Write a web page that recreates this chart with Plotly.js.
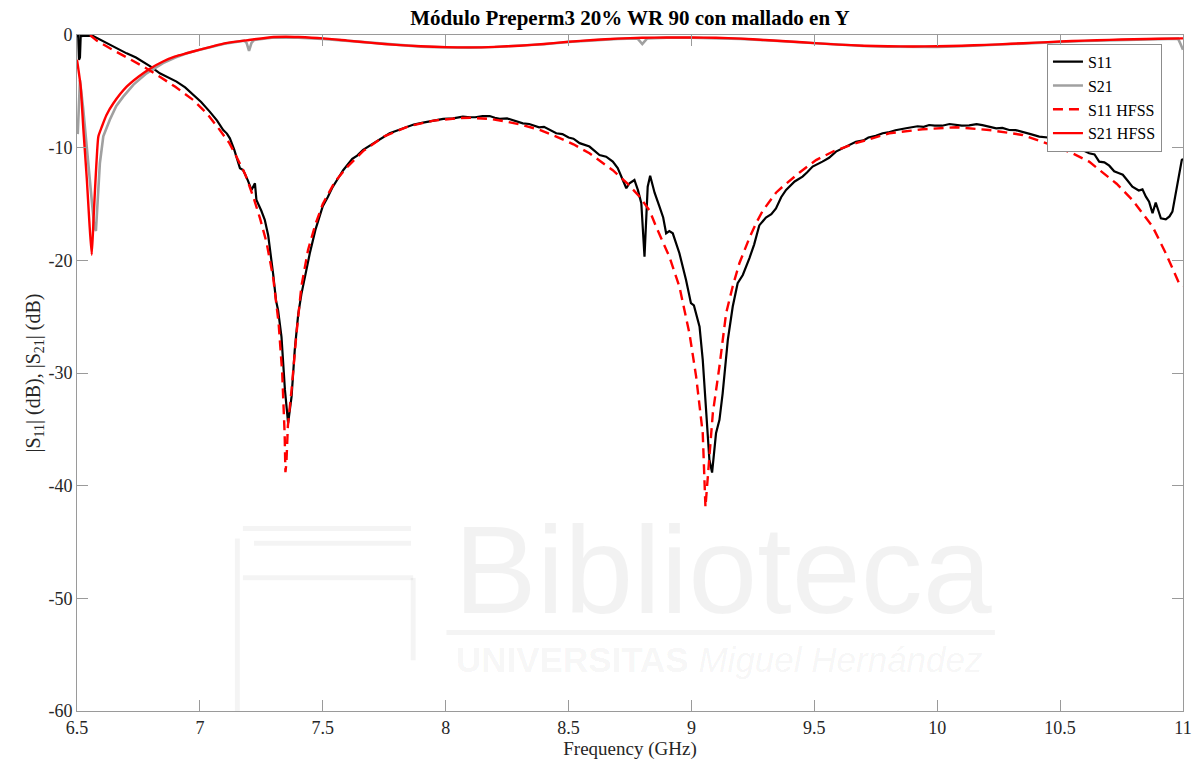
<!DOCTYPE html>
<html>
<head>
<meta charset="utf-8">
<script src="https://cdn.plot.ly/plotly-3.0.1.min.js"></script>
<style>
  html, body { margin: 0; padding: 0; background: #ffffff; }
  #chart { width: 1197px; height: 767px; }
</style>
</head>
<body>
<div id="chart"></div>
<script>
// Measured |S11| (dB)
const s11Freq = [6.500, 6.505, 6.508, 6.512, 6.515, 6.540, 6.566, 6.600, 6.634, 6.670, 6.702, 6.740, 6.770, 6.800,
  6.837, 6.870, 6.905, 6.940, 6.973, 7.005, 7.040, 7.070, 7.095, 7.110, 7.122, 7.140, 7.163, 7.176, 7.195, 7.210,
  7.224, 7.230, 7.250, 7.264, 7.278, 7.285, 7.298, 7.310, 7.318, 7.332, 7.346, 7.359, 7.373, 7.386, 7.400, 7.413,
  7.427, 7.447, 7.470, 7.500, 7.520, 7.540, 7.560, 7.583, 7.620, 7.640, 7.664, 7.690, 7.720, 7.745, 7.772, 7.800,
  7.840, 7.870, 7.908, 7.950, 7.990, 8.030, 8.070, 8.100, 8.120, 8.150, 8.179, 8.200, 8.220, 8.250, 8.280, 8.314,
  8.340, 8.380, 8.400, 8.420, 8.450, 8.475, 8.500, 8.520, 8.545, 8.585, 8.605, 8.626, 8.653, 8.680, 8.700, 8.714,
  8.735, 8.748, 8.768, 8.782, 8.796, 8.809, 8.822, 8.832, 8.850, 8.870, 8.885, 8.897, 8.910, 8.924, 8.951, 8.978,
  8.998, 9.010, 9.019, 9.033, 9.046, 9.060, 9.073, 9.084, 9.100, 9.114, 9.127, 9.148, 9.168, 9.188, 9.209, 9.236,
  9.255, 9.276, 9.303, 9.325, 9.344, 9.365, 9.385, 9.420, 9.452, 9.470, 9.493, 9.533, 9.560, 9.588, 9.630, 9.669,
  9.700, 9.720, 9.750, 9.778, 9.800, 9.830, 9.873, 9.900, 9.920, 9.945, 9.967, 9.990, 10.020, 10.050, 10.076, 10.100,
  10.130, 10.160, 10.184, 10.210, 10.240, 10.265, 10.293, 10.320, 10.350, 10.380, 10.415, 10.450, 10.480, 10.515,
  10.550, 10.585, 10.618, 10.640, 10.659, 10.680, 10.700, 10.720, 10.740, 10.755, 10.770, 10.794, 10.820, 10.835,
  10.849, 10.862, 10.876, 10.889, 10.900, 10.910, 10.930, 10.945, 10.957, 10.977, 10.995, 11.000];
const s11Meas = [-0.1, -0.1, -2.2, -2.0, -0.1, -0.05, -0.1, -0.5, -0.89, -1.3, -1.63, -2.0, -2.37, -2.8,
  -3.4, -3.75, -4.14, -4.65, -5.32, -5.95, -6.8, -7.6, -8.43, -8.75, -9.17, -10.2, -11.83, -11.98, -12.9, -13.75,
  -13.16, -14.64, -15.6, -16.4, -17.8, -18.9, -21.2, -23.6, -24.4, -26.8, -31.5, -34.45, -32.1, -27.95, -24.8, -23.0,
  -21.45, -19.4, -17.3, -15.2, -14.4, -13.5, -12.8, -12.0, -11.0, -10.7, -10.2, -9.85, -9.4, -9.1, -8.72, -8.5,
  -8.2, -7.95, -7.78, -7.6, -7.45, -7.4, -7.25, -7.3, -7.3, -7.2, -7.19, -7.35, -7.45, -7.4, -7.6, -7.84,
  -7.9, -8.2, -8.15, -8.4, -8.72, -8.8, -9.1, -9.2, -9.6, -9.9, -10.3, -10.65, -10.8, -11.24, -11.8, -12.57,
  -13.6, -13.16, -12.87, -13.75, -14.93, -19.67, -13.46, -12.5, -14.0, -15.23, -16.2, -17.6, -17.4, -17.6, -19.37, -21.74,
  -23.8, -24.0, -24.7, -25.9, -28.84, -33.87, -37.7, -38.84, -35.35, -34.16, -31.8, -27.06, -24.1, -22.03, -21.3, -19.8,
  -18.6, -16.9, -16.2, -15.9, -15.4, -14.4, -13.75, -13.0, -12.57, -12.2, -11.68, -11.24, -10.9, -10.35, -9.9, -9.47,
  -9.35, -9.1, -8.95, -8.72, -8.65, -8.45, -8.28, -8.2, -8.1, -8.15, -7.99, -8.05, -8.05, -7.9, -7.95, -8.05,
  -8.02, -7.92, -8.0, -8.15, -8.28, -8.25, -8.43, -8.45, -8.6, -8.8, -9.02, -9.1, -9.4, -9.55, -9.9, -10.15,
  -10.5, -10.6, -11.24, -11.3, -11.6, -12.1, -12.27, -12.4, -12.8, -13.46, -13.8, -13.7, -14.35, -14.8, -15.82, -14.88,
  -15.6, -16.27, -16.36, -16.1, -15.68, -13.16, -11.1, -11.0];

// Measured |S21| (dB)
const s21Freq = [6.503, 6.512, 6.525, 6.540, 6.555, 6.570, 6.577, 6.585, 6.593, 6.607, 6.634, 6.660, 6.688, 6.730,
  6.783, 6.850, 6.900, 6.950, 7.000, 7.100, 7.180, 7.190, 7.200, 7.210, 7.220, 7.300, 7.400, 7.500, 7.600, 7.700,
  7.800, 7.900, 8.000, 8.100, 8.200, 8.300, 8.400, 8.500, 8.600, 8.700, 8.780, 8.800, 8.820, 8.900, 9.000, 9.100,
  9.200, 9.300, 9.400, 9.500, 9.600, 9.700, 9.800, 9.900, 10.000, 10.100, 10.200, 10.300, 10.400, 10.500, 10.600,
  10.700, 10.800, 10.900, 10.980, 10.990, 11.000];
const s21Meas = [-8.8, -4.0, -6.5, -10.0, -13.5, -17.0, -17.4, -14.0, -11.4, -9.0, -7.5, -6.3, -5.47, -4.4,
  -3.4, -2.5, -2.0, -1.6, -1.3, -0.78, -0.5, -0.7, -1.4, -0.7, -0.45, -0.22, -0.24, -0.34, -0.52, -0.72,
  -0.9, -1.03, -1.1, -1.12, -1.07, -0.97, -0.82, -0.62, -0.47, -0.34, -0.3, -0.8, -0.3, -0.24, -0.24, -0.27,
  -0.34, -0.47, -0.6, -0.74, -0.87, -0.98, -1.04, -1.06, -1.05, -1.0, -0.92, -0.82, -0.72, -0.62, -0.53,
  -0.46, -0.4, -0.35, -0.32, -0.8, -1.3];

// Simulated |S11| (HFSS, dB)
const s11SimFreq = [6.553, 6.580, 6.634, 6.700, 6.770, 6.837, 6.900, 6.973, 7.030, 7.081, 7.120, 7.149, 7.185, 7.217,
  7.245, 7.271, 7.298, 7.320, 7.335, 7.345, 7.348, 7.352, 7.358, 7.373, 7.393, 7.413, 7.440, 7.470, 7.500, 7.550,
  7.600, 7.664, 7.750, 7.850, 7.950, 8.050, 8.100, 8.180, 8.250, 8.314, 8.380, 8.450, 8.520, 8.585, 8.640, 8.680,
  8.740, 8.789, 8.830, 8.856, 8.910, 8.951, 8.992, 9.019, 9.046, 9.057, 9.062, 9.073, 9.087, 9.114, 9.141, 9.168,
  9.195, 9.236, 9.263, 9.290, 9.344, 9.371, 9.440, 9.507, 9.580, 9.669, 9.805, 9.940, 10.076, 10.211, 10.347,
  10.483, 10.550, 10.618, 10.659, 10.730, 10.794, 10.876, 10.930, 10.984, 11.000];
const s11Sim = [0, -0.5, -1.18, -1.95, -2.8, -3.7, -4.6, -5.77, -7.0, -8.43, -9.6, -10.8, -12.4, -14.35,
  -16.3, -18.4, -21.5, -25.5, -30.0, -35.5, -38.8, -38.0, -34.7, -31.5, -26.5, -22.3, -19.08, -16.8, -15.0, -13.0,
  -11.7, -10.3, -9.0, -8.1, -7.6, -7.38, -7.35, -7.45, -7.7, -8.0, -8.4, -9.02, -9.7, -10.5, -11.4, -12.0,
  -13.2, -14.35, -15.6, -17.0, -19.67, -22.33, -26.5, -30.3, -35.35, -41.9, -40.5, -37.7, -33.56, -29.4, -24.7, -22.3,
  -20.26, -18.0, -16.7, -15.6, -14.0, -13.46, -12.2, -11.1, -10.3, -9.6, -8.72, -8.37, -8.19, -8.43, -8.87,
  -9.9, -10.5, -11.24, -11.98, -13.2, -14.64, -17.0, -19.37, -22.03, -22.3];

// Simulated |S21| (HFSS, dB)
const s21SimFreq = [6.500, 6.515, 6.526, 6.540, 6.550, 6.560, 6.568, 6.575, 6.582, 6.587, 6.600, 6.620, 6.648, 6.702,
  6.750, 6.800, 6.850, 6.900, 6.950, 7.000, 7.100, 7.200, 7.300, 7.350, 7.400, 7.500, 7.600, 7.700, 7.800, 7.900,
  8.000, 8.100, 8.200, 8.300, 8.400, 8.500, 8.600, 8.700, 8.800, 8.900, 9.000, 9.100, 9.200, 9.300, 9.400, 9.500,
  9.600, 9.700, 9.800, 9.900, 10.000, 10.100, 10.200, 10.300, 10.400, 10.500, 10.600, 10.700, 10.800, 10.900, 11.000];
const s21Sim = [-2.2, -4.6, -8.4, -12.8, -16.5, -19.5, -16.0, -13.0, -10.3, -9.0, -8.2, -7.1, -6.06, -4.59,
  -3.7, -2.95, -2.35, -1.9, -1.6, -1.3, -0.74, -0.44, -0.18, -0.15, -0.18, -0.3, -0.5, -0.7, -0.88, -1.0,
  -1.08, -1.1, -1.05, -0.95, -0.8, -0.6, -0.45, -0.32, -0.25, -0.22, -0.22, -0.25, -0.32, -0.45, -0.58, -0.72,
  -0.85, -0.95, -1.0, -1.02, -1.0, -0.95, -0.88, -0.78, -0.68, -0.58, -0.5, -0.43, -0.38, -0.33, -0.3];

const xTicks = [6.5, 7, 7.5, 8, 8.5, 9, 9.5, 10, 10.5, 11];
const xTickText = ['6.5', '7', '7.5', '8', '8.5', '9', '9.5', '10', '10.5', '11'];
const yTicks = [-60, -50, -40, -30, -20, -10, 0];
const yTickText = ['-60', '-50', '-40', '-30', '-20', '-10', '0'];

const serif = 'Liberation Serif, Times New Roman, serif';
const axisGrey = '#9a9a9a';

const traces = [
  { x: s11Freq, y: s11Meas, name: 'S11', type: 'scatter', mode: 'lines',
    line: { color: '#000000', width: 2.2 } },
  { x: s21Freq, y: s21Meas, name: 'S21', type: 'scatter', mode: 'lines',
    line: { color: '#a0a0a0', width: 2.6 } },
  { x: s11SimFreq, y: s11Sim, name: 'S11 HFSS', type: 'scatter', mode: 'lines',
    line: { color: '#ff0000', width: 2.4, dash: '10px,6px' } },
  { x: s21SimFreq, y: s21Sim, name: 'S21 HFSS', type: 'scatter', mode: 'lines',
    line: { color: '#ff0000', width: 2.4, shape: 'spline', smoothing: 0.6 } }
];

const faint = 'rgba(0,0,0,0.05)';
const faintLine = { color: 'rgba(0,0,0,0.045)', width: 5 };

const layout = {
  width: 1197, height: 767,
  margin: { l: 77, r: 14, t: 35, b: 56 },
  paper_bgcolor: '#ffffff', plot_bgcolor: '#ffffff',
  showlegend: true,
  title: {
    text: '<b>Módulo Preperm3 20% WR 90 con mallado en Y</b>',
    x: 0.5, xref: 'paper', xanchor: 'center',
    y: 0.977, yref: 'container', yanchor: 'middle',
    font: { family: serif, size: 21, color: '#000000' }
  },
  xaxis: {
    range: [6.5, 11], tickvals: xTicks, ticktext: xTickText,
    ticks: 'inside', ticklen: 11, tickwidth: 1, tickcolor: axisGrey,
    showline: true, linecolor: axisGrey, linewidth: 1, mirror: 'ticks',
    showgrid: false, zeroline: false,
    tickfont: { family: serif, size: 18, color: '#262626' },
    title: { text: 'Frequency (GHz)', standoff: 4, font: { family: serif, size: 19, color: '#262626' } }
  },
  yaxis: {
    range: [-60, 0], tickvals: yTicks, ticktext: yTickText,
    ticks: 'inside', ticklen: 11, tickwidth: 1, tickcolor: axisGrey,
    showline: true, linecolor: axisGrey, linewidth: 1, mirror: 'ticks',
    showgrid: false, zeroline: false,
    tickfont: { family: serif, size: 18, color: '#262626' },
    title: { text: '|S<sub>11</sub>| (dB), |S<sub>21</sub>| (dB)', standoff: 2,
      font: { family: serif, size: 20, color: '#262626' } }
  },
  legend: {
    x: 0.877, y: 0.987, xanchor: 'left', yanchor: 'top',
    bgcolor: '#ffffff', bordercolor: '#8c8c8c', borderwidth: 1,
    font: { family: serif, size: 16, color: '#000000' },
    tracegroupgap: 0, itemwidth: 30
  },
  // Library watermark in the background of the plot area
  annotations: [
    { text: 'Biblioteca', xref: 'paper', yref: 'paper', x: 0.584, y: 0.208,
      xanchor: 'center', yanchor: 'middle', showarrow: false,
      font: { family: 'Liberation Sans, Arial, sans-serif', size: 124, color: faint } },
    { text: '<b>UNIVERSITAS</b> <i>Miguel Hernández</i>', xref: 'paper', yref: 'paper', x: 0.581, y: 0.076,
      xanchor: 'center', yanchor: 'middle', showarrow: false,
      font: { family: 'Liberation Sans, Arial, sans-serif', size: 35, color: faint } }
  ],
  shapes: [
    { type: 'line', xref: 'paper', yref: 'paper', x0: 0.334, x1: 0.83, y0: 0.116, y1: 0.116,
      line: faintLine, layer: 'below' },
    // book outline of the watermark logo
    { type: 'line', xref: 'paper', yref: 'paper', x0: 0.145, x1: 0.145, y0: 0.0, y1: 0.255,
      line: faintLine, layer: 'below' },
    { type: 'line', xref: 'paper', yref: 'paper', x0: 0.15, x1: 0.302, y0: 0.27, y1: 0.27,
      line: faintLine, layer: 'below' },
    { type: 'line', xref: 'paper', yref: 'paper', x0: 0.16, x1: 0.302, y0: 0.248, y1: 0.248,
      line: faintLine, layer: 'below' },
    { type: 'line', xref: 'paper', yref: 'paper', x0: 0.15, x1: 0.304, y0: 0.197, y1: 0.197,
      line: faintLine, layer: 'below' },
    { type: 'line', xref: 'paper', yref: 'paper', x0: 0.304, x1: 0.304, y0: 0.075, y1: 0.197,
      line: faintLine, layer: 'below' }
  ]
};

Plotly.newPlot('chart', traces, layout, { displayModeBar: false, staticPlot: true });
</script>
</body>
</html>
